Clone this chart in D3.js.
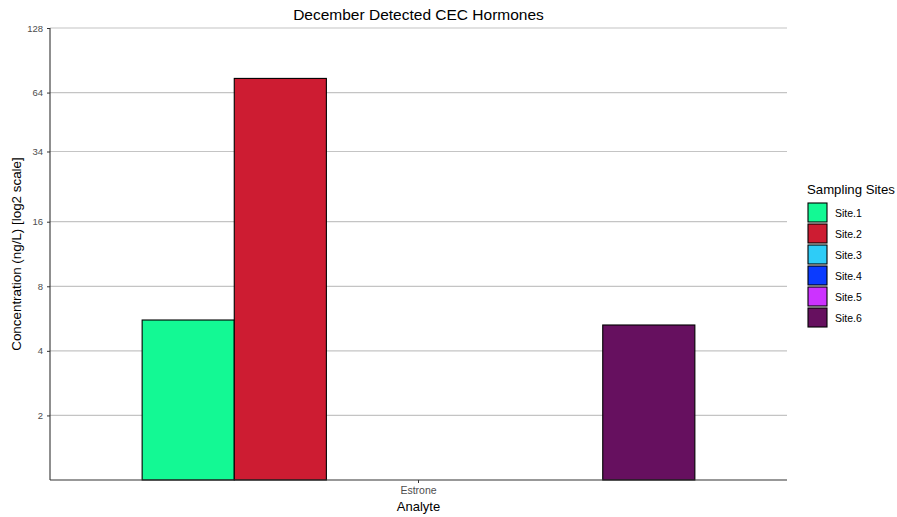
<!DOCTYPE html>
<html>
<head>
<meta charset="utf-8">
<script src="https://cdn.jsdelivr.net/npm/d3@7"></script>
<style>
  body { margin: 0; background: #fff; }
  svg { display: block; font-family: "Liberation Sans", Arial, Helvetica, sans-serif; }
</style>
</head>
<body>
<svg id="chart" width="897" height="517"></svg>
<script>
// Detected hormone concentrations, December sampling
const analytes = ["Estrone"];
const sites = ["Site.1", "Site.2", "Site.3", "Site.4", "Site.5", "Site.6"];
const estroneValues = [5.57, 74.5, null, null, null, 5.28];
const siteColors = ["#13F994", "#CD1C32", "#2ECCF7", "#0B3BFF", "#CC33FF", "#66105F"];
const yTicks = [2, 4, 8, 16, 34, 64, 128];

const svg = d3.select("#chart");
const panel = { left: 50, right: 787, top: 28, bottom: 480 };

const x = d3.scaleBand()
  .domain(analytes)
  .range([panel.left, panel.right])
  .paddingInner(0)
  .paddingOuter(0.1667);

const xSite = d3.scaleBand()
  .domain(sites)
  .range([0, x.bandwidth()])
  .padding(0);

const y = d3.scaleLog()
  .base(2)
  .domain([1, 128])
  .range([panel.bottom, panel.top]);

const color = d3.scaleOrdinal().domain(sites).range(siteColors);

// horizontal grid lines
svg.append("g")
  .selectAll("line")
  .data(yTicks)
  .join("line")
  .attr("x1", panel.left)
  .attr("x2", panel.right)
  .attr("y1", d => y(d))
  .attr("y2", d => y(d))
  .attr("stroke", "#c4c4c4")
  .attr("stroke-width", 1.2);

// bars
const rows = analytes.map(a => sites.map((s, i) => ({ analyte: a, site: s, value: estroneValues[i] })));
svg.append("g")
  .selectAll("g")
  .data(rows)
  .join("g")
  .attr("transform", d => `translate(${x(d[0].analyte)},0)`)
  .selectAll("rect")
  .data(d => d.filter(v => v.value != null))
  .join("rect")
  .attr("x", d => xSite(d.site))
  .attr("width", xSite.bandwidth())
  .attr("y", d => y(d.value))
  .attr("height", d => panel.bottom - y(d.value))
  .attr("fill", d => color(d.site))
  .attr("stroke", "#000")
  .attr("stroke-width", 1.1);

// axes
const yAxis = svg.append("g")
  .attr("transform", `translate(${panel.left},0)`)
  .call(d3.axisLeft(y).tickValues(yTicks).tickFormat(d3.format("d")).tickSize(3).tickPadding(4));
yAxis.select(".domain").attr("d", `M0,${panel.top}V${panel.bottom}`).attr("stroke", "#333").attr("stroke-width", 1.1);
yAxis.selectAll(".tick line").attr("stroke", "#333");
yAxis.selectAll(".tick text").attr("fill", "#4d4d4d").attr("font-size", 9.5);

const xAxis = svg.append("g")
  .attr("transform", `translate(0,${panel.bottom})`)
  .call(d3.axisBottom(x).tickSize(3).tickPadding(4));
xAxis.select(".domain").attr("d", `M${panel.left},0H${panel.right}`).attr("stroke", "#333").attr("stroke-width", 1.1);
xAxis.selectAll(".tick line").attr("stroke", "#333");
xAxis.selectAll(".tick text").attr("fill", "#4d4d4d").attr("font-size", 10.5);

// titles
svg.append("text")
  .attr("x", (panel.left + panel.right) / 2)
  .attr("y", 20)
  .attr("text-anchor", "middle")
  .attr("font-size", 15.5)
  .attr("fill", "#000")
  .text("December Detected CEC Hormones");

svg.append("text")
  .attr("x", (panel.left + panel.right) / 2)
  .attr("y", 511)
  .attr("text-anchor", "middle")
  .attr("font-size", 13)
  .attr("fill", "#000")
  .text("Analyte");

svg.append("text")
  .attr("transform", `translate(21,${(panel.top + panel.bottom) / 2}) rotate(-90)`)
  .attr("text-anchor", "middle")
  .attr("font-size", 13.4)
  .attr("fill", "#000")
  .text("Concentration (ng/L) [log2 scale]");

// legend
const legend = svg.append("g").attr("transform", "translate(807,194)");
legend.append("text")
  .attr("x", 0)
  .attr("y", 0)
  .attr("font-size", 13.2)
  .attr("fill", "#000")
  .text("Sampling Sites");

const keys = legend.selectAll("g.key")
  .data(sites)
  .join("g")
  .attr("class", "key")
  .attr("transform", (d, i) => `translate(1,${9 + i * 21})`);
keys.append("rect")
  .attr("width", 19)
  .attr("height", 19)
  .attr("fill", d => color(d))
  .attr("stroke", "#000")
  .attr("stroke-width", 1.1);
keys.append("text")
  .attr("x", 27)
  .attr("y", 13.5)
  .attr("font-size", 10.5)
  .attr("fill", "#000")
  .text(d => d);
</script>
</body>
</html>
